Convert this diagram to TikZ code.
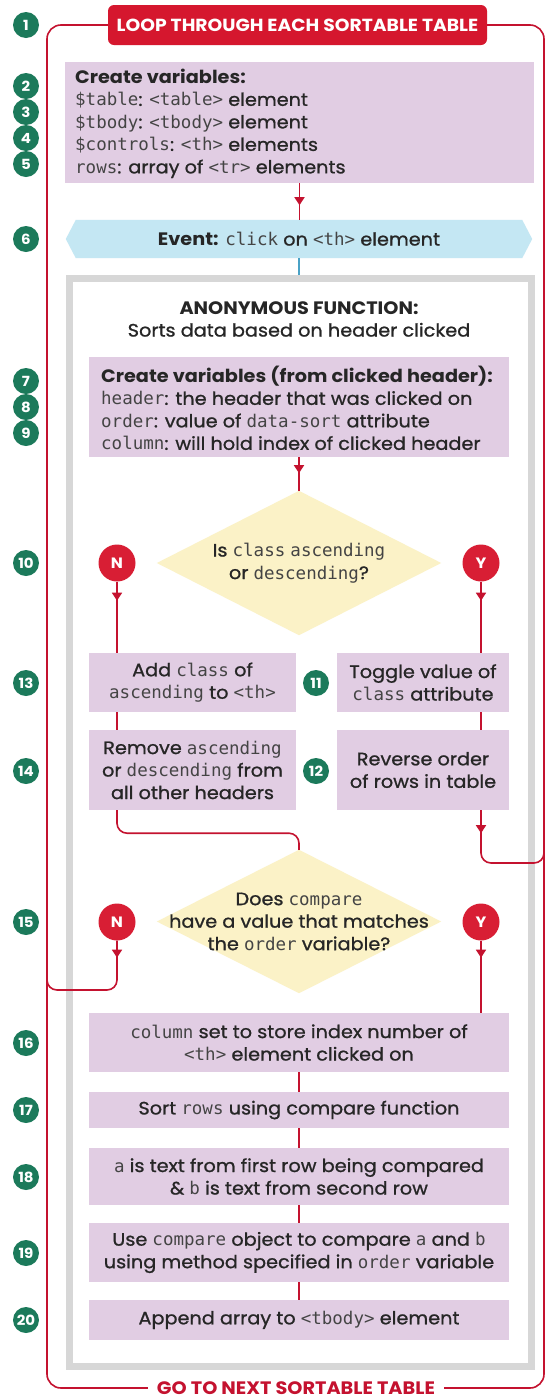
\documentclass[tikz,border=0pt]{standalone}
\usepackage{fontspec}
\setmainfont{Poppins}[FakeStretch=1.07]
\newfontfamily\medfont{Poppins}[FakeBold=1,FakeStretch=1.07]
\newfontfamily\codefont{DejaVu Sans Mono}
\usetikzlibrary{arrows.meta,decorations.markings}
\pgfdeclarelayer{background}
\pgfsetlayers{background,main}
\definecolor{hred}{HTML}{D5172E}
\definecolor{lred}{HTML}{C4122F}
\definecolor{cred}{HTML}{D81E34}
\definecolor{pinkc}{HTML}{E1CDE3}
\definecolor{badgeg}{HTML}{1C7A5B}
\definecolor{evblue}{HTML}{C4E7F3}
\definecolor{lblue}{HTML}{4AA2C6}
\definecolor{dyel}{HTML}{FBF2C7}
\definecolor{fgray}{HTML}{D7D7D7}
\definecolor{txt}{HTML}{262626}
\definecolor{codeg}{HTML}{444444}
\newcommand{\cd}[1]{{\codefont\fontsize{17.5}{22.5}\selectfont\color{codeg}#1}}
\newcommand{\hd}[1]{{\rmfamily\bfseries #1}}
\tikzset{
  body/.style={font=\medfont\fontsize{18}{22.5}\selectfont, text=txt},
  pbox/.style={body, fill=pinkc, inner xsep=4pt, inner ysep=0pt, align=center},
  boxbg/.style={fill=pinkc, inner sep=0pt},
  badge/.style={circle, fill=badgeg, text=white, font=\rmfamily\bfseries\fontsize{14}{14}\selectfont, minimum size=26pt, inner sep=0pt},
  yn/.style={circle, fill=cred, text=white, font=\rmfamily\bfseries\fontsize{15}{15}\selectfont, minimum size=37pt, inner sep=0pt},
  conn/.style={draw=lred, line width=1.6pt},
  looppath/.style={draw=lred, line width=1.6pt, rounded corners=14pt},
  tipat/.style={postaction={decorate}, decoration={markings, mark=at position #1 with {\arrow{Triangle[length=8pt,width=10pt,color=lred]}}}},
  hdrbox/.style={fill=hred, rounded corners=6pt, minimum width=379pt, minimum height=40pt, text=white, font=\rmfamily\bfseries\fontsize{17.5}{17.5}\selectfont, inner sep=0pt},
}
\begin{document}
\begin{tikzpicture}[x=1pt,y=-1pt]
\useasboundingbox (0,0) rectangle (547,1398);

% anonymous function frame
\node[draw=fgray, line width=7pt, minimum width=462pt, minimum height=1088pt, inner sep=0pt] (fn) at (300.5,822.5) {};

% header and bottom label
\node[hdrbox] (hdr) at (297.5,25) {LOOP THROUGH EACH SORTABLE TABLE};
\node[font=\rmfamily\bfseries\fontsize{18}{18}\selectfont, text=lred, inner xsep=9pt, inner ysep=1pt] (next) at (296,1388) {GO TO NEXT SORTABLE TABLE};

% step 2-5
\node[boxbg, minimum width=469pt, minimum height=121pt] (vars) at (299.5,122.5) {};
\node[body, anchor=west, align=left, inner sep=0pt] (varst) at (75,123.5) {\hd{Create variables:}\\\cd{\$table}: \cd{<table>} element\\\cd{\$tbody}: \cd{<tbody>} element\\\cd{\$controls}: \cd{<th>} elements\\\cd{rows}: array of \cd{<tr>} elements};

% event
\node[body, minimum width=466pt, minimum height=38pt, inner sep=0pt] (ev) at (299,239) {\hd{Event:} \cd{click} on \cd{<th>} element};

% title
\node[body, align=center] (title) at (299,319) {\hd{ANONYMOUS FUNCTION:}\\Sorts data based on header clicked};

% step 7-9
\node[boxbg, minimum width=420pt, minimum height=100pt] (cv) at (299,407) {};
\node[body, anchor=west, align=left, inner sep=0pt] (cvt) at (101,408) {\hd{Create variables (from clicked header):}\\\cd{header}: the header that was clicked on\\\cd{order}: value of \cd{data-sort} attribute\\\cd{column}: will hold index of clicked header};

% decision 1
\node[body, align=center, minimum width=284pt, minimum height=144pt, inner sep=0pt] (d1) at (299,563) {Is \cd{class} \cd{ascending}\\or \cd{descending}?};
\node[yn] (n1) at (117,563) {N};
\node[yn] (y1) at (481,563) {Y};

\node[pbox, minimum width=207pt, minimum height=59pt] (b13) at (192.5,682.5) {Add \cd{class} of\\\cd{ascending} to \cd{<th>}};
\node[pbox, minimum width=172pt, minimum height=59pt] (b11) at (423,682.5) {Toggle value of\\\cd{class} attribute};
\node[pbox, minimum width=207pt, minimum height=80pt] (b14) at (192.5,770) {Remove \cd{ascending}\\or \cd{descending} from\\all other headers};
\node[pbox, minimum width=172pt, minimum height=80pt] (b12) at (423,770) {Reverse order\\of rows in table};

% decision 2
\node[body, align=center, minimum width=284pt, minimum height=143pt, inner sep=0pt] (d2) at (299,921.5) {Does \cd{compare}\\have a value that matches\\the \cd{order} variable?};
\node[yn] (n2) at (117,922) {N};
\node[yn] (y2) at (481,922) {Y};

\node[pbox, minimum width=420pt, minimum height=59pt] (b16) at (299,1042.5) {\cd{column} set to store index number of\\\cd{<th>} element clicked on};
\node[pbox, minimum width=420pt, minimum height=36pt] (b17) at (299,1110) {Sort \cd{rows} using compare function};
\node[pbox, minimum width=420pt, minimum height=57pt] (b18) at (299,1176.5) {\cd{a} is text from first row being compared\\\& \cd{b} is text from second row};
\node[pbox, minimum width=420pt, minimum height=59pt] (b19) at (299,1252.5) {Use \cd{compare} object to compare \cd{a} and \cd{b}\\using method specified in \cd{order} variable};
\node[pbox, minimum width=420pt, minimum height=40pt] (b20) at (299,1320) {Append array to \cd{<tbody>} element};

% badges
\foreach \n/\y in {1/25, 2/86, 3/112, 4/138, 5/164, 6/239, 7/381, 8/407, 9/433, 10/563, 13/683, 14/771, 15/922, 16/1043, 17/1110, 18/1177, 19/1253, 20/1320}
  \node[badge] (bd\n) at (26,\y) {\n};
\node[badge] (bd11) at (316,683) {11};
\node[badge] (bd12) at (316,771) {12};

% loop junction points
\coordinate (jrh) at (544,863);
\coordinate (jr) at (544,845);
\coordinate (jlh) at (47,990);
\coordinate (jl) at (47,965);

% outer loop
\draw[looppath] (hdr.west) -- (47,25) -- (47,1388) -- (next.west);
\draw[looppath] (next.east) -- (544,1388) -- (544,25) -- (hdr.east);

% connectors
\draw[conn, tipat=22pt] (vars.south) -- (vars.south |- ev.north);
\draw[lblue, line width=1.8pt] (ev.south) -- (ev.south |- fn.north);
\draw[conn, tipat=16pt] (cv.south) -- (d1.north);
\draw[conn, tipat=19pt] (n1.south) -- (n1.south |- b13.north);
\draw[conn, tipat=19pt] (y1.south) -- (y1.south |- b11.north);
\draw[conn] (b13.south -| n1) -- (b14.north -| n1);
\draw[conn] (b11.south -| y1) -- (b12.north -| y1);
\draw[conn, rounded corners=10pt] (b14.south -| n1) -- ++(0,23) -| (d2.north);
\draw[conn, rounded corners=10pt, tipat=23pt] (b12.south -| y1) |- (jrh) -- (jr);
\draw[conn, rounded corners=10pt, tipat=17pt] (n2.south) |- (jlh) -- (jl);
\draw[conn, tipat=17pt] (y2.south) -- (y2.south |- b16.north);
\draw[conn] (b16.south) -- (b17.north);
\draw[conn] (b17.south) -- (b18.north);
\draw[conn] (b18.south) -- (b19.north);
\draw[conn] (b19.south) -- (b20.north);

\begin{pgfonlayer}{background}
  \fill[white] (0,0) rectangle (547,1398);
  \fill[evblue] (ev.west) -- ([xshift=10pt]ev.north west) -- ([xshift=-10pt]ev.north east) -- (ev.east) -- ([xshift=-10pt]ev.south east) -- ([xshift=10pt]ev.south west) -- cycle;
  \fill[dyel] (d1.north) -- (d1.east) -- (d1.south) -- (d1.west) -- cycle;
  \fill[dyel] (d2.north) -- (d2.east) -- (d2.south) -- (d2.west) -- cycle;
\end{pgfonlayer}
\end{tikzpicture}
\end{document}
